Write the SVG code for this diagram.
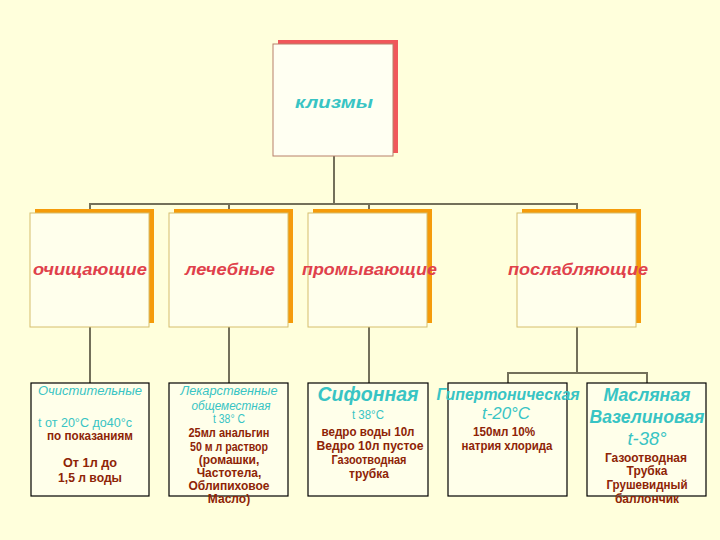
<svg xmlns="http://www.w3.org/2000/svg" width="720" height="540" viewBox="0 0 720 540">
<defs>
<style>
.bg{fill:#FFFFDC}
.conn{stroke:#73705A;stroke-width:2;fill:none}
.sh1{fill:#F0575A}
.b1{fill:#FFFFF2;stroke:#B8806A;stroke-width:1}
.sh2{fill:#F59B0A}
.b2{fill:#FFFFEC;stroke:#D6BE6C;stroke-width:1}
.b3{fill:#FFFFEA;stroke:#000000;stroke-width:1.2}
text{font-family:"Liberation Sans",Arial,sans-serif;text-anchor:middle}
.t1{fill:#38C4C4;font-size:17px;font-weight:bold;font-style:italic}
.t2{fill:#E0414B;font-size:17px;font-weight:bold;font-style:italic}
.ti{fill:#38C4C4;font-size:12.5px;font-style:italic}
.tn{fill:#38C4C4;font-size:12.5px}
.tb{fill:#38C4C4;font-weight:bold;font-style:italic}
.tm{fill:#38C4C4;font-style:italic}
.br{fill:#8E2406;font-size:12px;font-weight:bold}
</style>
</defs>
<rect class="bg" x="0" y="0" width="720" height="540"/>

<g id="connectors">
<path class="conn" d="M334 156 V204 M90 213 V204 H577 V213 M229 204 V213 M369 204 V213"/>
<path class="conn" d="M90 327 V383 M229 327 V383 M369 327 V383"/>
<path class="conn" d="M577 327 V373 M508 383 V373 H647 V383"/>
</g>

<g id="klizmy">
<rect class="sh1" x="278" y="40" width="120" height="113"/>
<rect class="b1" x="273" y="44" width="120" height="112"/>
<text class="t1" x="334" y="108" textLength="78" lengthAdjust="spacingAndGlyphs">клизмы</text>
</g>

<g id="ochishchayushchie">
<rect class="sh2" x="35" y="209" width="119" height="114"/>
<rect class="b2" x="30" y="213" width="119" height="114"/>
<text class="t2" x="90" y="275" textLength="114" lengthAdjust="spacingAndGlyphs">очищающие</text>
</g>

<g id="lechebnye">
<rect class="sh2" x="174" y="209" width="119" height="114"/>
<rect class="b2" x="169" y="213" width="119" height="114"/>
<text class="t2" x="230" y="275" textLength="90" lengthAdjust="spacingAndGlyphs">лечебные</text>
</g>

<g id="promyvayushchie">
<rect class="sh2" x="313" y="209" width="119" height="114"/>
<rect class="b2" x="308" y="213" width="119" height="114"/>
<text class="t2" x="369.5" y="275" textLength="135" lengthAdjust="spacingAndGlyphs">промывающие</text>
</g>

<g id="poslablyayushchie">
<rect class="sh2" x="522" y="209" width="119" height="114"/>
<rect class="b2" x="517" y="213" width="119" height="114"/>
<text class="t2" x="578" y="275" textLength="140" lengthAdjust="spacingAndGlyphs">послабляющие</text>
</g>

<g id="ochistitelnye">
<rect class="b3" x="31" y="383" width="118" height="113"/>
<text class="ti" x="90" y="395" textLength="104" lengthAdjust="spacingAndGlyphs">Очистительные</text>
<text class="tn" x="85" y="427" textLength="94" lengthAdjust="spacingAndGlyphs">t  от 20°С до40°с</text>
<text class="br" x="90" y="440" textLength="86" lengthAdjust="spacingAndGlyphs">по показаниям</text>
<text class="br" x="90" y="467" textLength="54" lengthAdjust="spacingAndGlyphs">От 1л до</text>
<text class="br" x="90" y="482" textLength="64" lengthAdjust="spacingAndGlyphs">1,5 л воды</text>
</g>

<g id="lekarstvennye">
<rect class="b3" x="169" y="383" width="119" height="113"/>
<text class="ti" x="229" y="395" textLength="97" lengthAdjust="spacingAndGlyphs">Лекарственные</text>
<text class="ti" x="231" y="410" textLength="79" lengthAdjust="spacingAndGlyphs">общеместная</text>
<text class="tn" x="229" y="423" textLength="32" lengthAdjust="spacingAndGlyphs">t 38° C</text>
<text class="br" x="229" y="437" textLength="81" lengthAdjust="spacingAndGlyphs">25мл анальгин</text>
<text class="br" x="229" y="451" textLength="78" lengthAdjust="spacingAndGlyphs">50 м л раствор</text>
<text class="br" x="229" y="464">(ромашки,</text>
<text class="br" x="229" y="477">Частотела,</text>
<text class="br" x="229" y="490">Облипиховое</text>
<text class="br" x="229" y="503">Масло)</text>
</g>

<g id="sifonnaya">
<rect class="b3" x="308" y="383" width="120" height="113"/>
<text class="tb" x="368" y="401" font-size="20" textLength="101" lengthAdjust="spacingAndGlyphs">Сифонная</text>
<text class="tn" x="368" y="419" textLength="32" lengthAdjust="spacingAndGlyphs">t 38°C</text>
<text class="br" x="368" y="436" textLength="93" lengthAdjust="spacingAndGlyphs">ведро воды 10л</text>
<text class="br" x="370" y="450" textLength="107" lengthAdjust="spacingAndGlyphs">Ведро 10л пустое</text>
<text class="br" x="369" y="464" textLength="75" lengthAdjust="spacingAndGlyphs">Газоотводная</text>
<text class="br" x="369" y="478">трубка</text>
</g>

<g id="gipertonicheskaya">
<rect class="b3" x="448" y="383" width="119" height="113"/>
<text class="tb" x="508" y="400" font-size="16" textLength="143" lengthAdjust="spacingAndGlyphs">Гипертоническая</text>
<text class="tm" x="506" y="419" font-size="17" textLength="48" lengthAdjust="spacingAndGlyphs">t-20°C</text>
<text class="br" x="504" y="436" textLength="62" lengthAdjust="spacingAndGlyphs">150мл 10%</text>
<text class="br" x="507" y="450" textLength="91" lengthAdjust="spacingAndGlyphs">натрия хлорида</text>
</g>

<g id="maslyanaya">
<rect class="b3" x="587" y="383" width="119" height="113"/>
<text class="tb" x="647" y="401" font-size="18" textLength="87" lengthAdjust="spacingAndGlyphs">Масляная</text>
<text class="tb" x="647" y="423" font-size="18" textLength="115" lengthAdjust="spacingAndGlyphs">Вазелиновая</text>
<text class="tm" x="647" y="445" font-size="18" textLength="39" lengthAdjust="spacingAndGlyphs">t-38°</text>
<text class="br" x="646" y="462" textLength="82" lengthAdjust="spacingAndGlyphs">Газоотводная</text>
<text class="br" x="647" y="475">Трубка</text>
<text class="br" x="647" y="489" textLength="81" lengthAdjust="spacingAndGlyphs">Грушевидный</text>
<text class="br" x="647" y="503">баллончик</text>
</g>
</svg>
